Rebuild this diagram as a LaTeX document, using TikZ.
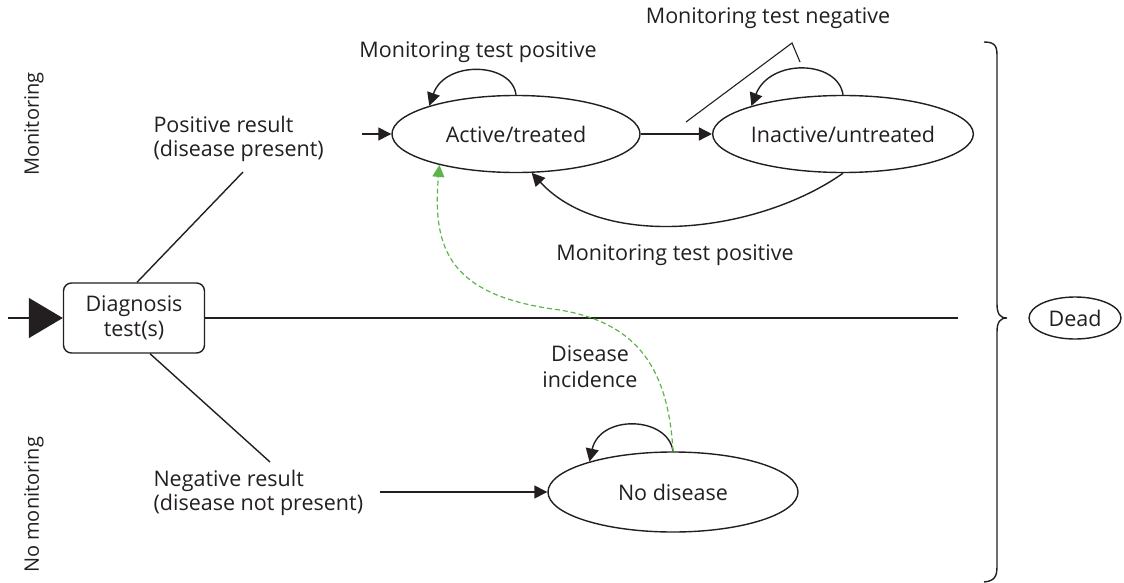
\documentclass[tikz,border=0pt]{standalone}
\usepackage{fontspec}
\setmainfont{Open Sans}
\usetikzlibrary{shapes.geometric,arrows.meta}
\definecolor{ink}{HTML}{231F20}
\definecolor{incid}{HTML}{5DB54A}
\begin{document}
\begin{tikzpicture}[x=1pt,y=-1pt,
  every node/.style={text=ink,font=\fontsize{21.5}{24}\selectfont},
  ln/.style={draw=ink,line width=1.4pt},
  arr/.style={ln,-{Triangle[length=13pt,width=13pt]}},
  state/.style={ellipse,ln,inner sep=0pt},
  lbl/.style={align=left,anchor=west},
  incidence/.style={draw=incid,line width=1.2pt,dashed,dash pattern=on 5pt off 3pt,
    -{Triangle[length=12pt,width=12pt,fill=incid]}}]
\useasboundingbox (0,0) rectangle (1124,583);

% states
\node[state,minimum width=248pt,minimum height=77pt] (act) at (516,134) {Active/treated};
\node[state,minimum width=251pt,minimum height=77pt] (inact) at (843,134) {Inactive/untreated};
\node[state,minimum width=250pt,minimum height=80pt] (nod) at (673,492) {No disease};
\node[state,minimum width=92pt,minimum height=42pt] (dead) at (1075,318) {Dead};
\node[draw=ink,line width=1.4pt,rounded corners=8pt,minimum width=141pt,minimum height=70pt,
  align=center,font=\fontsize{21.5}{25}\selectfont] (diag) at (134,318) {Diagnosis\\test(s)};

% side labels
\node[rotate=90,font=\fontsize{20}{24}\selectfont] (lmon) at (34,124) {Monitoring};
\node[rotate=90,font=\fontsize{20}{24}\selectfont] (lnomon) at (34,505) {No monitoring};

% entry and branches
\coordinate (entry) at (8,318);
\draw[ln,-{Triangle[length=34pt,width=40pt]}] (entry) -- (diag.west);
\coordinate (hend) at (958,318);
\draw[ln] (diag.east) -- (hend);

\coordinate (pup) at (243,172);
\draw[ln] ([xshift=3pt]diag.north) -- (pup);
\node[lbl] (pos) at (150,139) {Positive result\\(disease present)};
\coordinate (posa) at (362,134);
\draw[arr] (posa) -- (act.west);

\coordinate (pdn) at (270,462);
\draw[ln] ([xshift=16pt]diag.south) -- (pdn);
\node[lbl] (neg) at (150,493) {Negative result\\(disease not present)};
\coordinate (nega) at (380,492);
\draw[arr] (nega) -- (nod.west);

% transitions between monitored states
\draw[arr] (act.east) -- (inact.west);
\draw[arr] (inact.south) .. controls (760,232) and (605,252) .. (act.-68);
\node (mtp2) at (675,255) {Monitoring test positive};

% self loops
\draw[arr] (act.north) .. controls (512,62) and (445,60) .. (act.162);
\node (mtp1) at (478,52) {Monitoring test positive};
\draw[arr] (inact.north) .. controls (838,60) and (770,58) .. (inact.163);
\node (mtn) at (768,18) {Monitoring test negative};
\coordinate (ln1) at (686,122);
\coordinate (ln2) at (792,43);
\coordinate (ln3) at (800,62);
\draw[ln,line width=1.1pt] (ln1) -- (ln2) -- (ln3);
\draw[arr] (nod.north) .. controls (668,416) and (600,414) .. (nod.160);

% disease incidence
\coordinate (via) at (560,310);
\draw[incidence] (nod.north) .. controls (668,360) and (630,322) .. (via)
  .. controls (450,296) and (432,250) .. (act.202);
\node[align=center,font=\fontsize{21.5}{26}\selectfont] (inc) at (590,367) {Disease\\incidence};

% brace to the absorbing state
\draw[ln] (984,42) .. controls (997,42) and (997,48) .. (997,58) -- (997,304)
  .. controls (997,314) and (1000,318) .. (1007,318)
  .. controls (1000,318) and (997,322) .. (997,332) -- (997,566)
  .. controls (997,576) and (995,581) .. (984,582);
\end{tikzpicture}
\end{document}
